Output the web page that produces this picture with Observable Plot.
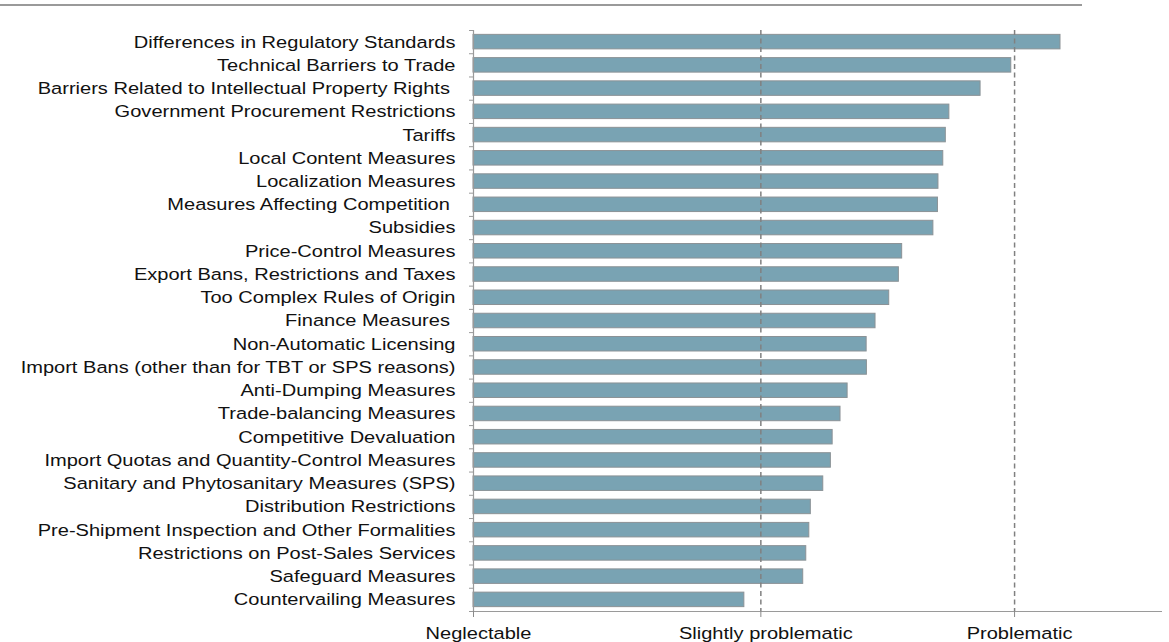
<!DOCTYPE html>
<html>
<head>
<meta charset="utf-8">
<script src="https://cdn.jsdelivr.net/npm/d3@7"></script>
<script src="https://cdn.jsdelivr.net/npm/@observablehq/plot@0.6"></script>
<style>
  html, body { margin: 0; padding: 0; background: #fff; }
  #wrap { position: relative; width: 1169px; height: 642px; overflow: hidden; }
  #topline { position: absolute; left: 0; top: 4px; width: 1082px; height: 0; border-top: 2px solid #9a9a9a; }
  #chart { position: absolute; left: 0; top: 0; }
</style>
</head>
<body>
<div id="wrap">
  <div id="topline"></div>
  <div id="chart"></div>
</div>
<script>
const categories = [
  "Differences in Regulatory Standards",
  "Technical Barriers to Trade",
  "Barriers Related to Intellectual Property Rights\u00A0",
  "Government Procurement Restrictions",
  "Tariffs",
  "Local Content Measures",
  "Localization Measures",
  "Measures Affecting Competition\u00A0",
  "Subsidies",
  "Price-Control Measures",
  "Export Bans, Restrictions and Taxes",
  "Too Complex Rules of Origin",
  "Finance Measures\u00A0",
  "Non-Automatic Licensing",
  "Import Bans (other than for TBT or SPS reasons)",
  "Anti-Dumping Measures",
  "Trade-balancing Measures",
  "Competitive Devaluation",
  "Import Quotas and Quantity-Control Measures",
  "Sanitary and Phytosanitary Measures (SPS)",
  "Distribution Restrictions",
  "Pre-Shipment Inspection and Other Formalities",
  "Restrictions on Post-Sales Services",
  "Safeguard Measures",
  "Countervailing Measures"
];
const values = [
  3.181, 2.987, 2.866, 2.743, 2.729, 2.719, 2.700, 2.698, 2.680, 2.557,
  2.544, 2.506, 2.452, 2.417, 2.418, 2.342, 2.314, 2.283, 2.276, 2.246,
  2.197, 2.191, 2.179, 2.167, 1.935
];
const xMin = 0.8675;
const xMax = 3.583;
const tickValues = [xMin, 2, 3];
const tickLabels = ["Neglectable", "Slightly problematic", "Problematic"];
const refLines = [2, 3];

const data = categories.map((c, i) => ({i, category: c, value: values[i]}));
const n = categories.length;
const boundaries = d3.range(n + 1).map(k => k - 0.5);
const half = 0.312;

const plot = Plot.plot({
  width: 1169,
  height: 642,
  marginTop: 30,
  marginBottom: 31,
  marginLeft: 473,
  marginRight: 7,
  style: {fontFamily: "'Liberation Sans', Arial, sans-serif", fontSize: "17px", color: "#111", background: "transparent"},
  x: {domain: [xMin, xMax]},
  y: {domain: [n - 0.5, -0.5]},
  marks: [
    Plot.rectX(data, {
      x1: xMin, x2: "value",
      y1: d => d.i - half, y2: d => d.i + half,
      fill: "#79a3b3", stroke: "#8b9296", strokeWidth: 1
    }),
    Plot.ruleX(refLines, {stroke: "#808080", strokeWidth: 1.5, strokeDasharray: "5,3.5"}),
    Plot.ruleX([xMin], {stroke: "#9a9a9a", strokeWidth: 1.2}),
    Plot.ruleY([n - 0.5], {stroke: "#9a9a9a", strokeWidth: 1.2}),
    Plot.axisY({ticks: boundaries, tickSize: 4, tickFormat: () => "", stroke: "#9a9a9a", label: null}),
    Plot.axisY({ticks: d3.range(n), tickSize: 0, tickPadding: 18, tickFormat: i => categories[i], label: null, fill: "#111"}),
    Plot.axisX({ticks: tickValues, tickSize: 6, tickFormat: () => "", stroke: "#8a8a8a", label: null}),
    Plot.axisX({ticks: tickValues, tickSize: 0, tickPadding: 15, dx: 5,
      tickFormat: v => tickLabels[tickValues.indexOf(v)], label: null, fill: "#111"})
  ]
});

document.getElementById("chart").appendChild(plot);

// horizontally stretch text glyphs like the reference
d3.select(plot).selectAll("text").each(function () {
  const t = this.getAttribute("transform") || "";
  this.setAttribute("transform", (t + " scale(1.18,1)").trim());
});
</script>
</body>
</html>
